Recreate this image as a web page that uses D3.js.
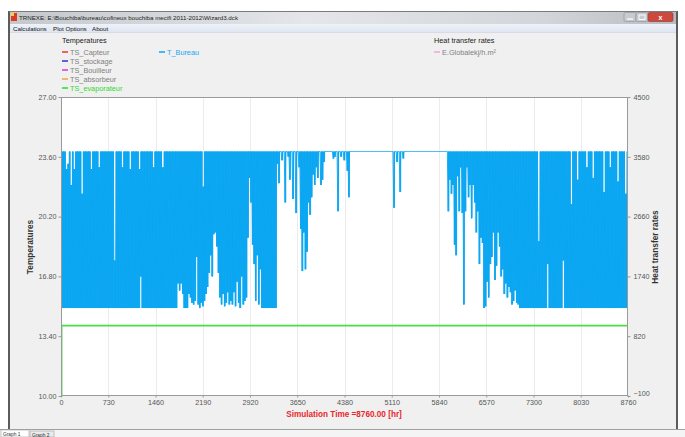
<!DOCTYPE html>
<html><head><meta charset="utf-8">
<script src="https://cdn.jsdelivr.net/npm/d3@7"></script>
<style>
html,body{margin:0;padding:0;background:#fff;}
svg{display:block;font-family:"Liberation Sans",Arial,sans-serif;}
</style></head><body>
<svg id="c" width="685" height="437"></svg>
<script>
// ---------- DATA ----------
const titleText = "TRNEXE: E:\\Bouchiba\\bureau\\cofineux bouchiba mecifi 2011-2012\\Wizard3.dck";
const menuItems = ["Calculations", "Plot Options", "About"];
const leftLegendTitle = "Temperatures";
const leftLegendNames = ["TS_Capteur", "TS_stockage", "TS_Bouilleur", "TS_absorbeur", "TS_evaporateur"];
const leftLegendColors = ["#e84040", "#3a3ae0", "#d848d8", "#f0a850", "#30e030"];
const leftLegendTextColors = ["#808080", "#808080", "#808080", "#808080", "#30d830"];
const left2LegendNames = ["T_Bureau"];
const left2LegendColors = ["#20a8f0"];
const rightLegendTitle = "Heat transfer rates";
const rightLegendNames = ["E.Globalekj/h.m\u00b2"];
const rightLegendColors = ["#f4a8d8"];

const xTicks = [0, 730, 1460, 2190, 2920, 3650, 4380, 5110, 5840, 6570, 7300, 8030, 8760];
const yLeftTicks = [10.00, 13.40, 16.80, 20.20, 23.60, 27.00];
const yRightTicks = [-100, 820, 1740, 2660, 3580, 4500];
const xLabel = "Simulation Time =8760.00 [hr]";
const yLeftLabel = "Temperatures";
const yRightLabel = "Heat transfer rates";

// T_Bureau: daily maximum and minimum (deg C), day 0..364
const bureauDayMax = [
23.9,23.9,23.9,22.9,23.2,23.9,22.0,23.9,22.9,23.9,
23.9,23.9,23.9,21.5,23.9,23.9,23.9,23.9,23.9,22.9,
23.9,23.9,23.9,23.9,23.0,23.9,23.9,23.9,23.9,23.9,
23.9,23.9,23.9,23.9,17.7,23.9,23.9,23.9,23.9,23.0,
23.9,23.9,23.9,23.9,22.9,23.9,23.9,23.9,23.9,23.9,
22.9,23.9,23.9,23.9,23.9,23.9,23.9,23.9,23.9,23.0,
23.9,23.9,23.9,23.9,23.9,23.0,23.9,23.9,23.9,23.9,
23.9,23.9,23.9,23.9,23.9,23.9,23.9,23.9,23.9,23.9,
23.9,23.9,23.9,23.9,23.9,23.9,23.9,23.9,23.9,23.9,
23.9,21.9,23.9,23.9,23.9,23.9,23.9,23.9,23.9,23.9,
23.9,23.9,23.9,23.9,23.9,23.9,23.9,23.9,23.9,23.9,
23.9,23.9,23.9,23.9,23.9,23.9,23.9,23.9,23.9,23.9,
23.9,23.9,23.9,23.9,23.9,23.9,23.9,23.9,23.9,23.9,
23.9,23.9,23.9,23.9,23.9,23.9,23.9,23.9,23.9,23.9,
23.9,23.9,23.9,23.9,23.9,23.9,23.9,23.9,23.9,23.9,
23.9,23.9,23.9,23.9,23.9,23.9,23.9,23.9,23.9,23.9,
23.9,23.9,23.9,23.9,23.9,23.9,23.9,23.9,23.9,23.9,
23.9,23.9,23.9,23.9,23.9,23.9,23.9,23.9,23.9,23.9,
23.9,23.9,23.9,23.9,23.9,23.9,23.9,23.9,23.9,23.9,
23.9,23.9,23.9,23.9,23.9,23.9,23.9,23.9,23.9,23.9,
23.9,23.9,23.9,23.9,23.9,23.9,23.9,23.9,23.9,23.9,
23.9,23.9,23.9,23.9,23.9,23.9,23.9,23.9,23.9,23.9,
23.9,23.9,23.9,23.9,23.9,23.9,23.9,23.9,23.9,23.9,
23.9,23.9,23.9,23.9,23.9,23.9,23.9,23.9,23.9,23.9,
23.9,23.9,23.9,23.9,23.9,23.9,23.9,23.9,23.9,23.9,
23.9,23.9,23.9,23.9,23.9,23.9,23.9,23.9,23.9,23.9,
23.9,23.9,23.9,23.9,23.9,23.9,23.9,23.9,23.9,23.9,
23.9,23.9,23.9,23.9,23.9,23.9,23.9,23.9,23.9,23.9,
23.9,23.9,23.9,23.9,23.9,23.9,23.9,23.9,23.9,23.9,
23.9,23.9,23.9,23.9,23.9,23.9,23.9,23.9,23.9,23.9,
23.9,23.9,23.9,23.9,23.9,23.9,23.9,18.8,23.9,23.9,
23.9,23.9,23.9,23.9,23.9,23.9,23.9,23.9,23.9,23.9,
23.9,23.9,23.9,23.9,23.9,23.9,23.9,23.9,20.9,23.9,
23.9,23.9,22.3,23.9,23.9,23.9,23.9,23.9,23.0,23.9,
23.9,23.9,22.4,23.9,23.9,23.9,23.9,23.9,23.9,21.6,
23.9,23.9,23.9,23.0,23.9,23.9,23.9,23.9,22.2,23.9,
23.9,23.9,23.9,21.5,23.9
];
const bureauDayMin = [
15.0,15.0,15.0,15.0,15.0,15.0,15.0,15.0,15.0,15.0,
15.0,15.0,15.0,15.0,15.0,15.0,15.0,15.0,15.0,15.0,
15.0,15.0,15.0,15.0,15.0,15.0,15.0,15.0,15.0,15.0,
15.0,15.0,15.0,15.0,15.0,15.0,15.0,15.0,15.0,15.0,
15.0,15.0,15.0,15.0,15.0,15.0,15.0,15.0,15.0,15.0,
15.0,16.8,15.0,15.0,15.0,15.0,15.0,15.0,15.0,15.0,
15.0,15.0,15.0,15.0,15.0,15.0,15.0,15.0,15.0,15.0,
15.0,15.0,15.0,15.0,15.0,16.4,16.0,16.4,15.8,15.0,
15.0,15.0,15.8,15.6,15.3,15.2,15.4,17.9,15.2,15.0,
15.3,15.1,15.4,15.8,16.2,17.0,18.0,16.8,19.2,19.3,
18.5,17.0,15.6,15.2,15.8,15.1,15.3,15.9,15.2,15.4,
15.2,15.9,15.1,16.5,15.3,15.0,16.8,15.2,15.4,15.6,
19.0,22.4,21.0,18.6,17.5,15.4,18.0,15.2,17.2,15.0,
15.0,15.0,15.0,15.0,15.0,15.0,15.0,15.0,15.0,23.2,
22.1,23.9,23.4,23.9,21.0,23.9,23.6,22.3,23.9,21.2,
23.9,20.4,23.9,23.0,19.5,17.1,19.3,17.2,18.2,21.0,
20.3,21.3,22.6,22.0,23.0,22.4,23.9,22.0,22.3,23.3,
23.9,23.9,23.9,23.9,23.9,23.5,23.6,23.9,20.5,23.9,
23.6,23.9,23.4,23.9,22.8,21.3,23.9,23.9,23.9,23.9,
23.9,23.9,23.9,23.9,23.9,23.9,23.9,23.9,23.9,23.9,
23.9,23.9,23.9,23.9,23.9,23.9,23.9,23.9,23.9,23.9,
23.9,23.9,23.9,23.9,20.7,23.9,23.3,23.9,21.6,23.9,
23.5,23.9,23.9,23.9,23.9,23.9,23.9,23.9,23.9,23.9,
23.9,23.9,23.9,23.9,23.9,23.9,23.9,23.9,23.9,23.9,
23.9,23.9,23.9,23.9,23.9,23.9,23.9,23.9,23.9,20.5,
22.3,21.5,22.0,18.6,18.0,22.5,20.5,23.0,20.4,15.2,
20.5,23.0,21.3,22.0,20.1,22.0,21.0,19.3,20.5,17.5,
19.0,18.7,15.0,15.1,16.5,15.6,17.5,17.9,19.3,16.6,
17.4,19.3,18.5,16.8,17.2,15.8,16.4,15.6,16.2,15.9,
15.2,15.4,16.0,15.3,15.2,15.0,15.0,15.0,15.0,15.0,
15.0,15.0,15.0,15.0,15.0,15.0,15.0,15.0,15.0,15.0,
15.0,15.0,15.0,17.5,15.0,15.0,15.0,15.0,15.0,15.0,
15.0,15.0,15.0,17.7,15.0,15.0,15.0,15.0,15.0,15.0,
15.0,15.0,15.0,15.0,15.0,15.0,15.0,15.0,15.0,15.0,
15.0,15.0,15.0,15.0,15.0,15.0,15.0,15.0,15.0,15.0,
15.0,15.0,15.0,15.0,15.0,15.0,15.0,15.0,15.0,15.0,
15.0,15.0,15.0,15.0,15.0
];
// TS_evaporateur
const evapTimes = [0, 10, 8760];
const evapValues = [10.0, 14.0, 14.0];

// ---------- DRAW ----------
const svg = d3.select("#c");
const W = 685, H = 437;
const blue = "#0aa6f2";
const defs = svg.append("defs");
const tg = defs.append("linearGradient").attr("id","tb").attr("x1",0).attr("x2",1).attr("y1",0).attr("y2",0);
tg.append("stop").attr("offset","0").attr("stop-color","#c4c8cc");
tg.append("stop").attr("offset","0.45").attr("stop-color","#e4e6e9");
tg.append("stop").attr("offset","0.8").attr("stop-color","#d2d5d9");
tg.append("stop").attr("offset","1").attr("stop-color","#b8bcc0");
const mg = defs.append("linearGradient").attr("id","mb").attr("x1",0).attr("x2",0).attr("y1",0).attr("y2",1);
mg.append("stop").attr("offset","0").attr("stop-color","#eef2f9");
mg.append("stop").attr("offset","1").attr("stop-color","#dfe6f2");

svg.append("rect").attr("width",W).attr("height",H).attr("fill","#fff");
// window body
svg.append("rect").attr("x",9).attr("y",11).attr("width",668).attr("height",418).attr("fill","#f0f0f0");
svg.append("rect").attr("x",9).attr("y",11).attr("width",668).attr("height",13).attr("fill","url(#tb)");
svg.append("rect").attr("x",10).attr("y",24).attr("width",666).attr("height",8).attr("fill","url(#mb)");
svg.append("line").attr("x1",10).attr("x2",676).attr("y1",32.5).attr("y2",32.5).attr("stroke","#d6dbe4");
svg.append("line").attr("x1",9).attr("x2",9).attr("y1",11).attr("y2",429).attr("stroke","#5c5c5c").attr("stroke-width",2);
svg.append("line").attr("x1",677).attr("x2",677).attr("y1",11).attr("y2",429).attr("stroke","#5c5c5c").attr("stroke-width",2);
svg.append("line").attr("x1",9).attr("x2",677).attr("y1",11.5).attr("y2",11.5).attr("stroke","#7a7a7a");
// icon
svg.append("rect").attr("x",11).attr("y",13).attr("width",6).attr("height",8).attr("fill","#e03a1e");
svg.append("rect").attr("x",11).attr("y",13).attr("width",3).attr("height",3).attr("fill","#f7d040");
svg.append("text").attr("x",19).attr("y",20).attr("font-size",6.2).attr("fill","#222").text(titleText);
// window buttons
svg.append("rect").attr("x",624).attr("y",12.5).attr("width",12).attr("height",9).attr("rx",1.5).attr("fill","#c7cbd0").attr("stroke","#8a8f96").attr("stroke-width",0.6);
svg.append("rect").attr("x",636).attr("y",12.5).attr("width",12).attr("height",9).attr("rx",1.5).attr("fill","#c7cbd0").attr("stroke","#8a8f96").attr("stroke-width",0.6);
svg.append("rect").attr("x",648).attr("y",12.5).attr("width",25).attr("height",9).attr("rx",1.5).attr("fill","#d0483c").attr("stroke","#8a3a34").attr("stroke-width",0.6);
svg.append("line").attr("x1",627).attr("x2",633).attr("y1",19).attr("y2",19).attr("stroke","#fff").attr("stroke-width",1.2);
svg.append("rect").attr("x",639).attr("y",15).attr("width",6).attr("height",4.5).attr("fill","none").attr("stroke","#fff").attr("stroke-width",0.9);
svg.append("text").attr("x",660.5).attr("y",20).attr("font-size",7).attr("font-weight","bold").attr("fill","#fff").attr("text-anchor","middle").text("x");
// menu
const menuX = [13, 53, 92];
menuItems.forEach((m,i)=>svg.append("text").attr("x",menuX[i]).attr("y",30.5).attr("font-size",6.2).attr("fill","#111").text(m));
// bottom tabs
svg.append("rect").attr("x",0).attr("y",429).attr("width",W).attr("height",8).attr("fill","#f4f4f4");
svg.append("line").attr("x1",0).attr("x2",W).attr("y1",429.5).attr("y2",429.5).attr("stroke","#a0a0a0");
svg.append("rect").attr("x",1).attr("y",430).attr("width",28).attr("height",7).attr("fill","#fff").attr("stroke","#a0a0a0").attr("stroke-width",0.6);
svg.append("rect").attr("x",30).attr("y",431).attr("width",24).attr("height",6).attr("fill","#eaeaea").attr("stroke","#a0a0a0").attr("stroke-width",0.6);
svg.append("text").attr("x",3).attr("y",436).attr("font-size",4.8).attr("fill","#333").text("Graph 1");
svg.append("text").attr("x",32).attr("y",436.5).attr("font-size",4.8).attr("fill","#333").text("Graph 2");

// scales
const x = d3.scaleLinear().domain([0, 8760]).range([61, 628]);
const yL = d3.scaleLinear().domain([10, 27]).range([396, 97]);
const yR = d3.scaleLinear().domain([-100, 4500]).range([396, 97]);

// plot area
svg.append("rect").attr("x",61).attr("y",97).attr("width",567).attr("height",299).attr("fill","#fff");
// grid
svg.append("g").selectAll("line").data(xTicks.slice(1,-1)).join("line")
  .attr("x1",d=>Math.round(x(d))+0.5).attr("x2",d=>Math.round(x(d))+0.5).attr("y1",97).attr("y2",396)
  .attr("stroke","#ececec").attr("stroke-width",1);

defs.append("clipPath").attr("id","clip").append("rect").attr("x",61).attr("y",96).attr("width",568).attr("height",301);

// T_Bureau: daily band (dense hourly oscillation) + zigzag line
const bureauDays = bureauDayMax.map((mx,d)=>({t:d*24, lo:bureauDayMin[d], hi:mx}));
const bandData = bureauDays.concat([{t:8760, lo:bureauDayMin[bureauDayMin.length-1], hi:bureauDayMax[bureauDayMax.length-1]}]);
svg.append("path").datum(bandData).attr("clip-path","url(#clip)")
  .attr("d", d3.area().curve(d3.curveStepAfter).x(d=>x(d.t)).y0(d=>yL(d.lo)).y1(d=>yL(d.hi)))
  .attr("fill", blue).attr("fill-opacity", 0.93);
const bureauPts = [];
bureauDays.forEach(d=>{
  bureauPts.push([d.t+5, d.lo]);
  bureauPts.push([d.t+17, d.hi]);
});
svg.append("path").datum(bureauPts).attr("clip-path","url(#clip)")
  .attr("d", d3.line().x(d=>x(d[0])).y(d=>yL(d[1]))).attr("fill","none").attr("stroke",blue).attr("stroke-width",0.9);

// TS_evaporateur
const evapPts = evapTimes.map((t,i)=>[t, evapValues[i]]);
svg.append("path").datum(evapPts).attr("clip-path","url(#clip)")
  .attr("d", d3.line().curve(d3.curveStepAfter).x(d=>x(d[0])).y(d=>yL(d[1])))
  .attr("fill","none").attr("stroke","#44e044").attr("stroke-width",1.6);

// frame
svg.append("rect").attr("x",61.5).attr("y",97.5).attr("width",566).attr("height",298).attr("fill","none").attr("stroke","#9a9a9a");

// axes
const fmt2 = d3.format(".2f");
const axL = svg.append("g").attr("transform","translate(61.5,0)")
  .call(d3.axisLeft(yL).tickValues(yLeftTicks).tickFormat(fmt2).tickSize(3).tickPadding(2));
const axR = svg.append("g").attr("transform","translate(627.5,0)")
  .call(d3.axisRight(yR).tickValues(yRightTicks).tickFormat(d3.format("d")).tickSize(3).tickPadding(3));
const axB = svg.append("g").attr("transform","translate(0,395.5)")
  .call(d3.axisBottom(x).tickValues(xTicks).tickFormat(d3.format("d")).tickSize(2).tickPadding(2.5));
[axL, axR, axB].forEach(a=>{
  a.select(".domain").remove();
  a.selectAll(".tick line").attr("stroke","#9a9a9a");
  a.selectAll(".tick text").attr("font-size",7.2).attr("fill","#555").attr("font-family","'Liberation Sans',Arial,sans-serif");
});
// nudge the lowest right-axis label up a little so it clears the last time label
axR.selectAll(".tick text").filter(d=>d===yRightTicks[0]).attr("dy","-0.05em");

// axis titles
svg.append("text").attr("x",344).attr("y",417).attr("text-anchor","middle").attr("font-size",8.2)
  .attr("font-weight","bold").attr("fill","#e8262c").text(xLabel);
svg.append("text").attr("transform","translate(33,247) rotate(-90)").attr("text-anchor","middle")
  .attr("font-size",8.3).attr("font-weight","bold").attr("fill","#333").text(yLeftLabel);
svg.append("text").attr("transform","translate(658,247) rotate(-90)").attr("text-anchor","middle")
  .attr("font-size",8.3).attr("font-weight","bold").attr("fill","#333").text(yRightLabel);

// legends
svg.append("text").attr("x",62).attr("y",43).attr("font-size",7.3).attr("fill","#222").text(leftLegendTitle);
leftLegendNames.forEach((n,i)=>{
  const yy = 52 + i*9;
  svg.append("line").attr("x1",62).attr("x2",68).attr("y1",yy).attr("y2",yy).attr("stroke",leftLegendColors[i]).attr("stroke-width",1.6);
  svg.append("text").attr("x",70).attr("y",yy+2.6).attr("font-size",7.3).attr("fill",leftLegendTextColors[i]).text(n);
});
left2LegendNames.forEach((n,i)=>{
  const yy = 52 + i*9;
  svg.append("line").attr("x1",159).attr("x2",165).attr("y1",yy).attr("y2",yy).attr("stroke",left2LegendColors[i]).attr("stroke-width",1.6);
  svg.append("text").attr("x",167).attr("y",yy+2.6).attr("font-size",7.3).attr("fill",left2LegendColors[i]).text(n);
});
svg.append("text").attr("x",434).attr("y",43).attr("font-size",7.3).attr("fill","#222").text(rightLegendTitle);
rightLegendNames.forEach((n,i)=>{
  const yy = 52 + i*9;
  svg.append("line").attr("x1",434).attr("x2",440).attr("y1",yy).attr("y2",yy).attr("stroke",rightLegendColors[i]).attr("stroke-width",1.6);
  svg.append("text").attr("x",442).attr("y",yy+2.6).attr("font-size",7.3).attr("fill","#808080").text(n);
});
</script>
</body></html>
